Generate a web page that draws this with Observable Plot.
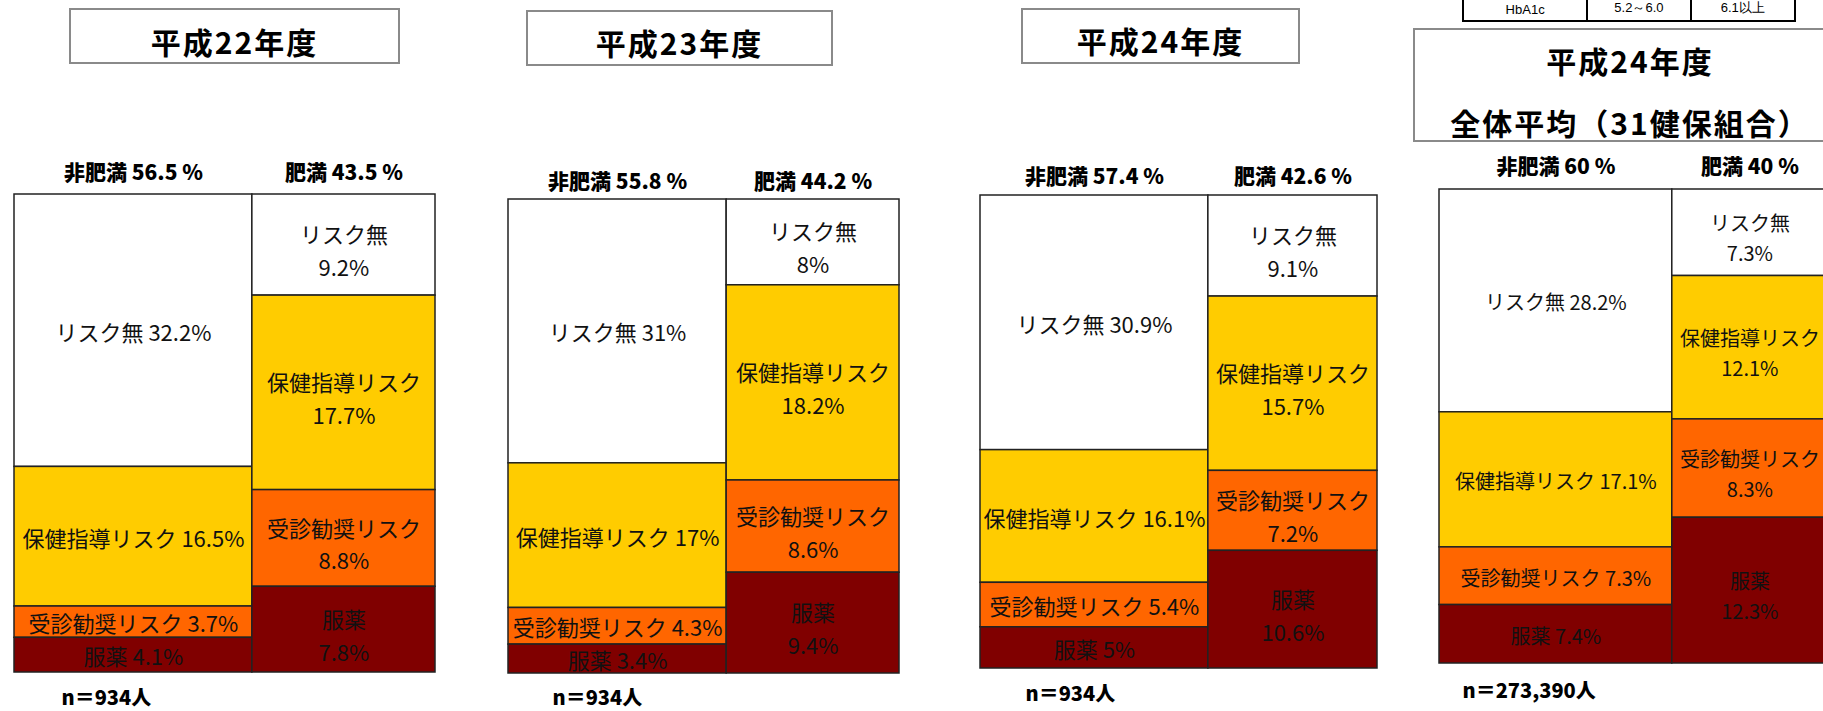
<!DOCTYPE html>
<html>
<head>
<meta charset="utf-8">
<script src="https://cdn.jsdelivr.net/npm/d3@7"></script>
<script src="https://cdn.jsdelivr.net/npm/@observablehq/plot@0.6"></script>
<style>
  html, body { margin: 0; padding: 0; background: #fff; }
  body { width: 1823px; height: 711px; position: relative; overflow: hidden;
         font-family: "Noto Sans CJK JP", "Noto Sans", sans-serif; }
  .title { position: absolute; box-sizing: border-box; border: 2px solid #8a8a8a;
           font-weight: 700; font-size: 30px; letter-spacing: 2px; color: #000; background: #fff; }
  .title span { position: absolute; left: 0; right: 0; text-align: center; line-height: 40px; height: 40px; white-space: nowrap; }
  .panel { position: absolute; }
  .panel svg { max-width: none !important; }
  .legend { position: absolute; left: 1462px; top: -22px; width: 334px; height: 44px; box-sizing: border-box;
            border: 2.5px solid #000; display: flex; font-family: "Liberation Sans", Arial, sans-serif; font-size: 13px; }
  .legend div { display: flex; align-items: flex-end; justify-content: center; padding-bottom: 3px; box-sizing: border-box; }
  .legend div + div { border-left: 2px solid #000; }
</style>
</head>
<body>
<script>
// ---- data ----
const titles = ["平成22年度", "平成23年度", "平成24年度", "平成24年度\n全体平均（31健保組合）"];
const groups = ["非肥満", "肥満"];
const categories = ["リスク無", "保健指導リスク", "受診勧奨リスク", "服薬"];
const groupShare = [[56.5, 43.5], [55.8, 44.2], [57.4, 42.6], [60, 40]];
const nonObese = [[32.2, 16.5, 3.7, 4.1], [31, 17, 4.3, 3.4], [30.9, 16.1, 5.4, 5], [28.2, 17.1, 7.3, 7.4]];
const obese = [[9.2, 17.7, 8.8, 7.8], [8, 18.2, 8.6, 9.4], [9.1, 15.7, 7.2, 10.6], [7.3, 12.1, 8.3, 12.3]];
const sampleSizes = ["934", "934", "934", "273,390"];
const legendCells = ["HbA1c", "5.2～6.0", "6.1以上"];
const colors = ["#FFFFFF", "#FFCC00", "#FF6600", "#800000"];

// ---- layout (pixels) ----
const layout = [
  {left: 14, right: 435, top: 194, bottom: 672, hdy: 21, ndx: 47, ndy: 26, fs: 22, t: {x: 69, y: 8, w: 331, h: 56, lines: [41]}},
  {left: 508, right: 899, top: 199, bottom: 673, hdy: 17, ndx: 44, ndy: 25, fs: 22, t: {x: 526, y: 10, w: 307, h: 56, lines: [42]}},
  {left: 980, right: 1377, top: 195, bottom: 668, hdy: 18, ndx: 45, ndy: 26, fs: 22, t: {x: 1021, y: 8, w: 279, h: 56, lines: [40]}},
  {left: 1439, right: 1827, top: 189, bottom: 663, hdy: 22, ndx: 23, ndy: 28, fs: 20, t: {x: 1413, y: 28, w: 434, h: 114, lines: [60, 122]}}
];

// legend table
const leg = document.createElement("div");
leg.className = "legend";
[125, 104, 105].forEach((w, i) => {
  const c = document.createElement("div");
  c.style.width = (i === 0 ? w - 2 : w) + "px";
  c.textContent = legendCells[i];
  leg.appendChild(c);
});
document.body.appendChild(leg);

const ml = 30, mr = 30, mt = 60, mb = 50;

titles.forEach((title, p) => {
  const L = layout[p];
  // title box
  const tb = document.createElement("div");
  tb.className = "title";
  Object.assign(tb.style, {left: L.t.x + "px", top: L.t.y + "px", width: L.t.w + "px", height: L.t.h + "px"});
  title.split("\n").forEach((line, li) => {
    const s = document.createElement("span");
    s.textContent = line;
    s.style.top = (L.t.lines[li] - L.t.y - 2 - 20) + "px";
    tb.appendChild(s);
  });
  document.body.appendChild(tb);

  // marimekko data
  const cells = [];
  const heads = [];
  let x0 = 0;
  groups.forEach((g, gi) => {
    const share = groupShare[p][gi];
    const vals = gi === 0 ? nonObese[p] : obese[p];
    const total = d3.sum(vals);
    const x1 = x0 + share;
    let ytop = 100;
    categories.forEach((c, ci) => {
      const h = vals[ci] / total * 100;
      const label = gi === 0 ? `${c} ${vals[ci]}%` : `${c}\n${vals[ci]}%`;
      cells.push({group: g, gi, category: c, x1: x0, x2: x1, y1: ytop - h, y2: ytop, label});
      ytop -= h;
    });
    heads.push({x: (x0 + x1) / 2, text: `${g} ${share} %`});
    x0 = x1;
  });

  const W = L.right - L.left, H = L.bottom - L.top;
  const chart = Plot.plot({
    width: W + ml + mr,
    height: H + mt + mb,
    marginLeft: ml, marginRight: mr, marginTop: mt, marginBottom: mb,
    x: {domain: [0, 100], axis: null},
    y: {domain: [0, 100], axis: null},
    color: {domain: categories, range: colors},
    style: {fontFamily: "'Noto Sans CJK JP', sans-serif", fontSize: L.fs + "px", background: "transparent", overflow: "visible"},
    marks: [
      Plot.rect(cells, {x1: "x1", x2: "x2", y1: "y1", y2: "y2", fill: "category", stroke: "#222", strokeWidth: 1.5}),
      Plot.text(cells.filter(d => d.gi === 0), {
        x: d => (d.x1 + d.x2) / 2, y: d => (d.y1 + d.y2) / 2, text: "label",
        fill: "#111", dy: 3, fontSize: L.fs
      }),
      Plot.text(cells.filter(d => d.gi === 1), {
        x: d => (d.x1 + d.x2) / 2, y: d => (d.y1 + d.y2) / 2, text: "label",
        fill: "#111", dy: 4, fontSize: L.fs, lineHeight: 1.5
      }),
      Plot.text(heads, {x: "x", y: () => 100, text: "text", dy: -L.hdy, fontSize: 21, fontWeight: 900, fill: "#000"}),
      Plot.text([`n＝${sampleSizes[p]}人`], {
        frameAnchor: "bottom-left", textAnchor: "start", lineAnchor: "middle",
        dx: L.ndx, dy: L.ndy, fontSize: 20, fontWeight: 900, fill: "#000"
      })
    ]
  });
  const wrap = document.createElement("div");
  wrap.className = "panel";
  wrap.style.left = (L.left - ml) + "px";
  wrap.style.top = (L.top - mt) + "px";
  wrap.style.width = (W + ml + mr) + "px";
  wrap.appendChild(chart);
  document.body.appendChild(wrap);
});
</script>
</body>
</html>
